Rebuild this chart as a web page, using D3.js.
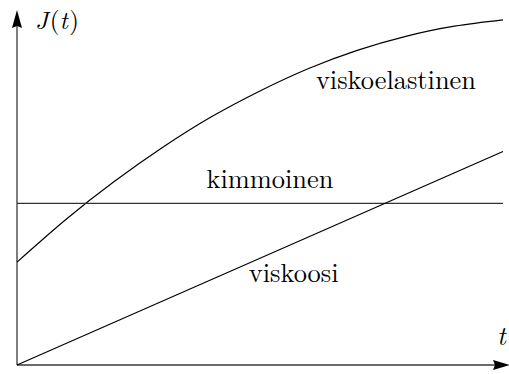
<!DOCTYPE html>
<html>
<head>
<meta charset="utf-8">
<script src="https://cdn.jsdelivr.net/npm/d3@7"></script>
<style>
  html, body { margin: 0; padding: 0; background: #fff; }
  svg { display: block; }
</style>
</head>
<body>
<script>
// Creep compliance J(t) for three material models
const tValues = [0, 1, 2, 3, 4, 5, 6, 7, 8, 9, 10];
const viskoelastinen = [2.94, 4.15, 5.24, 6.22, 7.09, 7.83, 8.47, 8.99, 9.39, 9.68, 9.86];
const kimmoinen = [4.62, 4.62];
const viskoosi = [0, 6.1];
const lineT = [0, 10];

const labels = [
  { text: "viskoelastinen", t: 6.15, J: 7.88 },
  { text: "kimmoinen", t: 3.9, J: 5.05 },
  { text: "viskoosi", t: 4.77, J: 2.38 }
];

const serif = "'Latin Modern Roman'";
const fontSize = 26.4;
const width = 509, height = 374;
const svg = d3.select("body").append("svg")
  .attr("width", width).attr("height", height);

const x = d3.scaleLinear().domain([0, 10]).range([17, 503]);
const y = d3.scaleLinear().domain([0, 10]).range([365, 15]);

// axes with arrowheads
const xEnd = 510, yEnd = 10;
svg.append("line")
  .attr("x1", x(0)).attr("y1", y(0)).attr("x2", xEnd - 14).attr("y2", y(0))
  .attr("stroke", "#3a3a3a").attr("stroke-width", 1.3);
svg.append("line")
  .attr("x1", x(0)).attr("y1", y(0)).attr("x2", x(0)).attr("y2", yEnd + 16)
  .attr("stroke", "#3a3a3a").attr("stroke-width", 1.3);
svg.append("path")
  .attr("d", `M${xEnd},${y(0)} L${xEnd - 17},${y(0) - 5} L${xEnd - 15},${y(0)} L${xEnd - 17},${y(0) + 5} Z`)
  .attr("fill", "#000");
svg.append("path")
  .attr("d", `M${x(0)},${yEnd} L${x(0) - 5},${yEnd + 18} L${x(0)},${yEnd + 16} L${x(0) + 5},${yEnd + 18} Z`)
  .attr("fill", "#000");

svg.append("path")
  .datum(tValues.map((t, i) => [t, viskoelastinen[i]]))
  .attr("d", d3.line().curve(d3.curveNatural).x(d => x(d[0])).y(d => y(d[1])))
  .attr("fill", "none").attr("stroke", "#000").attr("stroke-width", 1.2);

svg.append("path")
  .datum(lineT.map((t, i) => [t, kimmoinen[i]]))
  .attr("d", d3.line().x(d => x(d[0])).y(d => y(d[1])))
  .attr("fill", "none").attr("stroke", "#333").attr("stroke-width", 1.3);

svg.append("path")
  .datum(lineT.map((t, i) => [t, viskoosi[i]]))
  .attr("d", d3.line().x(d => x(d[0])).y(d => y(d[1])))
  .attr("fill", "none").attr("stroke", "#000").attr("stroke-width", 1.2);

svg.selectAll("text.lbl").data(labels).enter().append("text")
  .attr("class", "lbl")
  .attr("x", d => x(d.t)).attr("y", d => y(d.J))
  .style("font-family", serif)
  .style("font-size", fontSize + "px")
  .attr("fill", "#000")
  .text(d => d.text);

// axis titles
const jt = svg.append("text").attr("x", 35).attr("y", 29)
  .style("font-family", serif).style("font-size", "25px").attr("fill", "#000");
jt.append("tspan").style("font-style", "italic").text("J");
jt.append("tspan").attr("dx", 1.5).text("(");
jt.append("tspan").style("font-style", "italic").text("t");
jt.append("tspan").attr("dx", 1.5).text(")");

svg.append("text").attr("x", 497).attr("y", 345)
  .style("font-family", serif).style("font-size", fontSize + "px")
  .style("font-style", "italic").attr("fill", "#000").text("t");
</script>
</body>
</html>
